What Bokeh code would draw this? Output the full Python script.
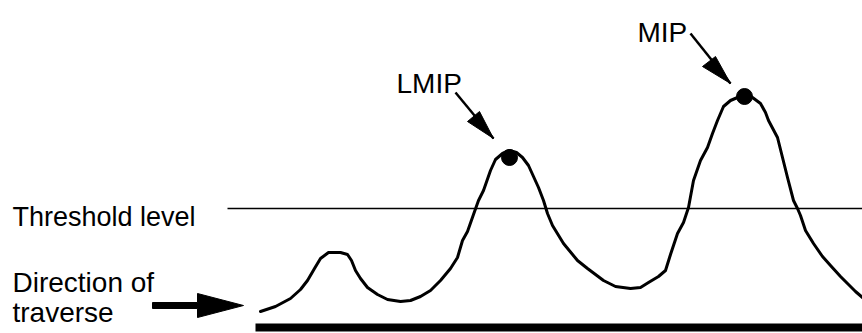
from bokeh.plotting import figure
from bokeh.models import Range1d
from bokeh.core.properties import value
from bokeh.embed import file_html
from bokeh.resources import INLINE

# Signal curve (x, y in picture units, y grows downward)
curve_x = [260, 275, 290, 300, 307, 314, 320, 328, 340, 347, 351, 355, 360, 367, 377, 387, 400, 410,
           420, 430, 440, 450, 457, 462, 467, 473, 478, 483, 490, 495, 502, 509, 516, 522, 528, 533,
           538, 543, 547, 552, 563, 577, 587, 603, 615, 630, 640, 648, 658, 665, 670, 677, 683, 688,
           693, 700, 707, 712, 717, 723, 730, 737, 744, 752, 760, 765, 768, 777, 782, 787, 793, 797,
           800, 805, 813, 822, 830, 840, 847, 855, 862]
curve_y = [311, 306, 298, 289, 280, 268, 258, 252, 252, 254, 260, 270, 278, 287, 294, 299, 301, 300,
           296, 290, 280, 268, 257, 240, 231, 214, 200, 190, 170, 159, 153, 150, 152, 157, 165, 176,
           187, 200, 213, 225, 243, 260, 268, 280, 286, 288, 287, 282, 276, 270, 254, 233, 222, 207,
           180, 160, 147, 133, 120, 106, 100, 97, 95, 97, 103, 112, 120, 137, 157, 177, 200, 208,
           215, 230, 243, 256, 265, 276, 283, 291, 297]

# Threshold level and traverse baseline
threshold_y = 208
threshold_x = [227, 862]
base_y = 327
base_x = [255, 862]

# Peaks
peak_names = ["LMIP", "MIP"]
peak_x = [509, 744]
peak_y = [157, 96]

# Pointer arrows to peaks: shaft start, tip, head base corners
ptr_start_x = [455, 690]
ptr_start_y = [92, 33]
ptr_tip_x = [493, 730]
ptr_tip_y = [138, 83]
ptr_head_xs = [[467, 479, 493], [702, 715, 730]]
ptr_head_ys = [[121, 111, 138], [66, 56, 83]]

# Direction arrow (outline)
dir_xs = [152, 197, 197, 243, 197, 197, 152]
dir_ys = [302, 302, 293, 305, 317, 308, 308]

# Labels
label_text = ["Threshold level", "Direction of", "traverse", "LMIP", "MIP"]
label_x = [12, 12, 12, 396, 637]
label_y = [216, 282, 312, 83, 32]
label_size = ["27px", "28px", "28px", "28px", "28px"]

p = figure(width=862, height=333, x_range=Range1d(0, 862), y_range=Range1d(333, 0),
           output_backend="svg", toolbar_location=None, min_border=0)
p.axis.visible = False
p.grid.visible = False
p.outline_line_color = None
p.background_fill_color = "white"

p.line(threshold_x, [threshold_y, threshold_y], line_color="black", line_width=1.5)
p.line(base_x, [base_y, base_y], line_color="black", line_width=8, line_cap="butt")
p.line(curve_x, curve_y, line_color="black", line_width=3, line_join="round", line_cap="round")

p.scatter(peak_x, peak_y, size=16, color="black")

p.segment(ptr_start_x, ptr_start_y, ptr_tip_x, ptr_tip_y, line_color="black", line_width=2.5)
p.patches(ptr_head_xs, ptr_head_ys, fill_color="black", line_color="black", line_width=1)

p.patch(dir_xs, dir_ys, fill_color="black", line_color="black", line_width=1)

p.text(x=label_x, y=label_y, text=label_text, text_font=value("Liberation Sans"),
       text_font_size=label_size, text_baseline="alphabetic", text_align="left", text_color="black")

open("out.html", "w").write(file_html(p, INLINE))
